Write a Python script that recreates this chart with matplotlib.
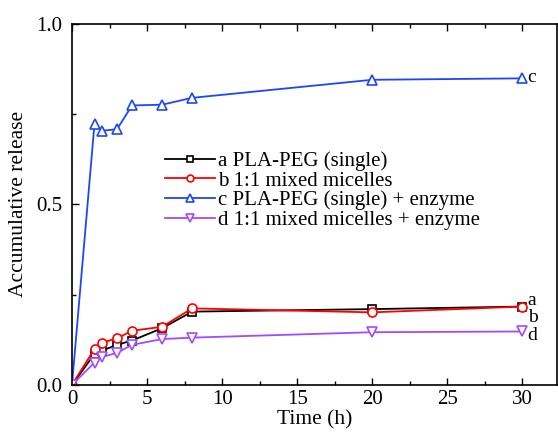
import matplotlib
matplotlib.use("Agg")
import matplotlib.pyplot as plt
from matplotlib.ticker import MultipleLocator, FormatStrFormatter

plt.rcParams['font.family'] = ['Liberation Serif', 'DejaVu Serif']

time_h = [0, 1.5, 2, 3, 4, 6, 8, 20, 30]
a_single = [0, 0.086, 0.095, 0.111, 0.123, 0.157, 0.203, 0.210, 0.217]
b_mixed = [0, 0.100, 0.117, 0.129, 0.150, 0.161, 0.212, 0.201, 0.217]
c_single_enz = [0, 0.723, 0.704, 0.708, 0.774, 0.776, 0.795, 0.845, 0.849]
d_mixed_enz = [0, 0.062, 0.077, 0.089, 0.111, 0.127, 0.131, 0.146, 0.148]

labels = ["a PLA-PEG (single)", "b 1:1 mixed micelles",
          "c PLA-PEG (single) + enzyme", "d 1:1 mixed micelles + enzyme"]
colors = ["#000000", "#ff0000", "#1f45fc", "#a349ff"]
markers = ["s", "o", "^", "v"]
msizes = [5.5, 6.5, 7, 7]
series = [a_single, b_mixed, c_single_enz, d_mixed_enz]
end_labels = ["a", "b", "c", "d"]
end_y = [0.234, 0.186, 0.85, 0.137]

fig = plt.figure(figsize=(5.58, 4.33), dpi=100)
ax = fig.add_axes([0.129, 0.111, 0.869, 0.834])

for ys, lab, col, mk, ms in zip(series, labels, colors, markers, msizes):
    ax.plot(time_h, ys, color=col, marker=mk, markersize=ms,
            markerfacecolor='white', markeredgecolor=col, markeredgewidth=1.2,
            linewidth=1.3, label=lab)

for t, yv in zip(end_labels, end_y):
    ax.text(30.35, yv, t, fontsize=14, va='center', ha='left')

ax.set_xlim(0, 32.3)
ax.set_ylim(0, 1.0)
ax.xaxis.set_major_locator(MultipleLocator(5))
ax.xaxis.set_minor_locator(MultipleLocator(2.5))
ax.yaxis.set_major_locator(MultipleLocator(0.5))
ax.yaxis.set_minor_locator(MultipleLocator(0.25))
ax.yaxis.set_major_formatter(FormatStrFormatter('%.1f'))
ax.tick_params(which='both', direction='in', top=True, right=False, labelsize=15)
ax.tick_params(which='major', length=5, width=1)
ax.tick_params(which='minor', length=3, width=1)
ax.tick_params(axis='y', which='major', pad=7)
for s in ax.spines.values():
    s.set_linewidth(1.2)

ax.set_xlabel("Time (h)", fontsize=15.5, labelpad=1)
ax.set_ylabel("Accumulative release", fontsize=15.5, labelpad=6)

leg = ax.legend(loc='upper left', bbox_to_anchor=(0.175, 0.67), frameon=False,
                fontsize=15, handlelength=2.4, handletextpad=0.15,
                labelspacing=0.0, borderaxespad=0, markerscale=0.75)

fig.savefig("out.png", dpi=100)
